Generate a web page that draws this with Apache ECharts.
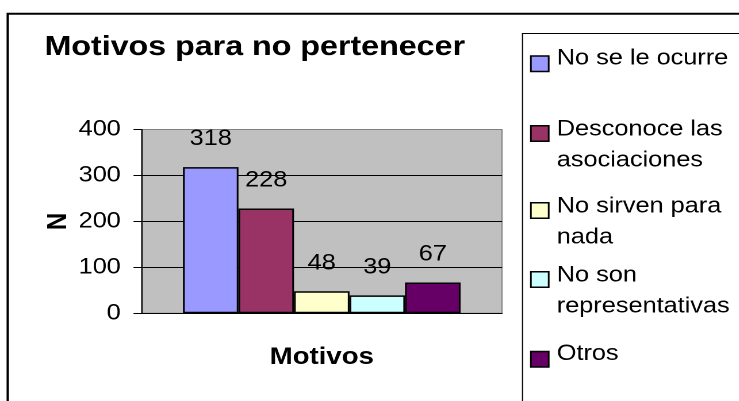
<!DOCTYPE html>
<html>
<head>
<meta charset="utf-8">
<script src="https://cdn.jsdelivr.net/npm/echarts@6/dist/echarts.min.js"></script>
<style>
  html, body { margin: 0; padding: 0; background: #fff; overflow: hidden; }
  /* The chart is drawn in a narrower box and widened by SX, giving the wide lettering of the original sheet */
  #chart { width: 642.6px; height: 401px; transform: scaleX(1.15); transform-origin: 0 0; }
</style>
</head>
<body>
<div id="chart"></div>
<script>
// ---- data ----
const categories = ['Motivos'];
const seriesNames = ['No se le ocurre', 'Desconoce las asociaciones', 'No sirven para nada', 'No son representativas', 'Otros'];
const legendLabels = ['No se le ocurre', 'Desconoce las\nasociaciones', 'No sirven para\nnada', 'No son\nrepresentativas', 'Otros'];
const seriesValues = [318, 228, 48, 39, 67];
const yTicks = [0, 100, 200, 300, 400];

// ---- styling ----
const palette = ['#9999FF', '#993366', '#FFFFCC', '#CCFFFF', '#660066'];
const FONT = '"Liberation Sans", Arial, Helvetica, sans-serif';
const SX = 1.15;                 // horizontal widening applied by CSS
const px = x => x / SX;          // page x -> chart x

// first-line centre of each legend entry (page y)
const legendRows = [56.5, 128, 205, 274, 352];
const LH = 31;

// Legend text is rich text: a spacer line keeps the square beside the first line of wrapped names
function legendText(label) {
  const lines = label.split('\n').map(l => '{t|' + l + '}');
  return lines.length > 1 ? '{s| }\n' + lines.join('\n') : lines[0] + '\n{b| }';
}

const chart = echarts.init(document.getElementById('chart'), null, { renderer: 'canvas', devicePixelRatio: 2 });

const legends = seriesNames.map((name, i) => {
  const wrapped = legendLabels[i].indexOf('\n') >= 0;
  return {
    data: [name],
    orient: 'vertical',
    left: px(530),
    top: legendRows[i] - (wrapped ? 29.5 : 9.25),
    padding: 0,
    icon: 'rect',
    itemWidth: 15.5,
    itemHeight: 15.5,
    selectedMode: false,
    itemStyle: { borderColor: '#000', borderWidth: 1.5 },
    formatter: () => legendText(legendLabels[i]),
    textStyle: {
      fontFamily: FONT, fontSize: 22, color: '#000',
      rich: {
        t: { fontFamily: FONT, fontSize: 22, lineHeight: LH, color: '#000', padding: [0, 0, 0, 2] },
        s: { fontFamily: FONT, fontSize: 8, lineHeight: LH - 8 },
        b: { fontFamily: FONT, fontSize: 8, lineHeight: 11 }
      }
    }
  };
});

const option = {
  animation: false,
  backgroundColor: '#fff',
  title: {
    text: 'Motivos para no pertenecer',
    left: px(44.5),
    top: 33.5,
    padding: 0,
    textStyle: { fontFamily: FONT, fontSize: 28, fontWeight: 'bold', color: '#000' }
  },
  legend: legends,
  graphic: [
    { type: 'rect', silent: true, z: 100,
      shape: { x: px(7.7), y: 13.8, width: 2000, height: 2000 },
      style: { fill: 'none', stroke: '#000', lineWidth: 2 } },
    { type: 'rect', silent: true, z: 100,
      shape: { x: px(522.5), y: 33.5, width: 2000, height: 2000 },
      style: { fill: 'none', stroke: '#000', lineWidth: 1 } }
  ],
  grid: {
    left: px(141.5),
    top: 129.5,
    width: px(502) - px(141.5),
    height: 183.8,
    show: true,
    backgroundColor: '#C0C0C0',
    borderColor: '#808080',
    borderWidth: 1
  },
  xAxis: {
    type: 'category',
    data: categories,
    name: categories[0],
    nameLocation: 'middle',
    nameGap: 32,
    nameTextStyle: { fontFamily: FONT, fontSize: 24, fontWeight: 'bold', color: '#000' },
    axisLine: { show: true, lineStyle: { color: '#000', width: 1 } },
    axisTick: { show: false },
    axisLabel: { show: false },
    splitLine: { show: false }
  },
  yAxis: {
    type: 'value',
    min: yTicks[0],
    max: yTicks[yTicks.length - 1],
    interval: yTicks[1] - yTicks[0],
    name: 'N',
    nameLocation: 'middle',
    nameGap: 60,
    nameTextStyle: { fontFamily: FONT, fontSize: 24, fontWeight: 'bold', color: '#000' },
    axisLine: { show: true, lineStyle: { color: '#000', width: 1 } },
    axisTick: { show: true, inside: false, length: px(8), lineStyle: { color: '#000', width: 1 } },
    axisLabel: { margin: 18, fontFamily: FONT, fontSize: 22, color: '#000' },
    splitLine: { show: true, lineStyle: { color: ['#000', '#000', '#000', '#000', '#808080'], width: 1 } }
  },
  series: seriesNames.map((name, i) => ({
    name,
    type: 'bar',
    data: [seriesValues[i]],
    barGap: '0%',
    barCategoryGap: '23%',
    itemStyle: { color: palette[i], borderColor: '#000', borderWidth: 1.5 },
    label: {
      show: true,
      position: 'top',
      distance: 17,
      fontFamily: FONT,
      fontSize: 22,
      color: '#000'
    }
  }))
};

chart.setOption(option);
</script>
</body>
</html>
